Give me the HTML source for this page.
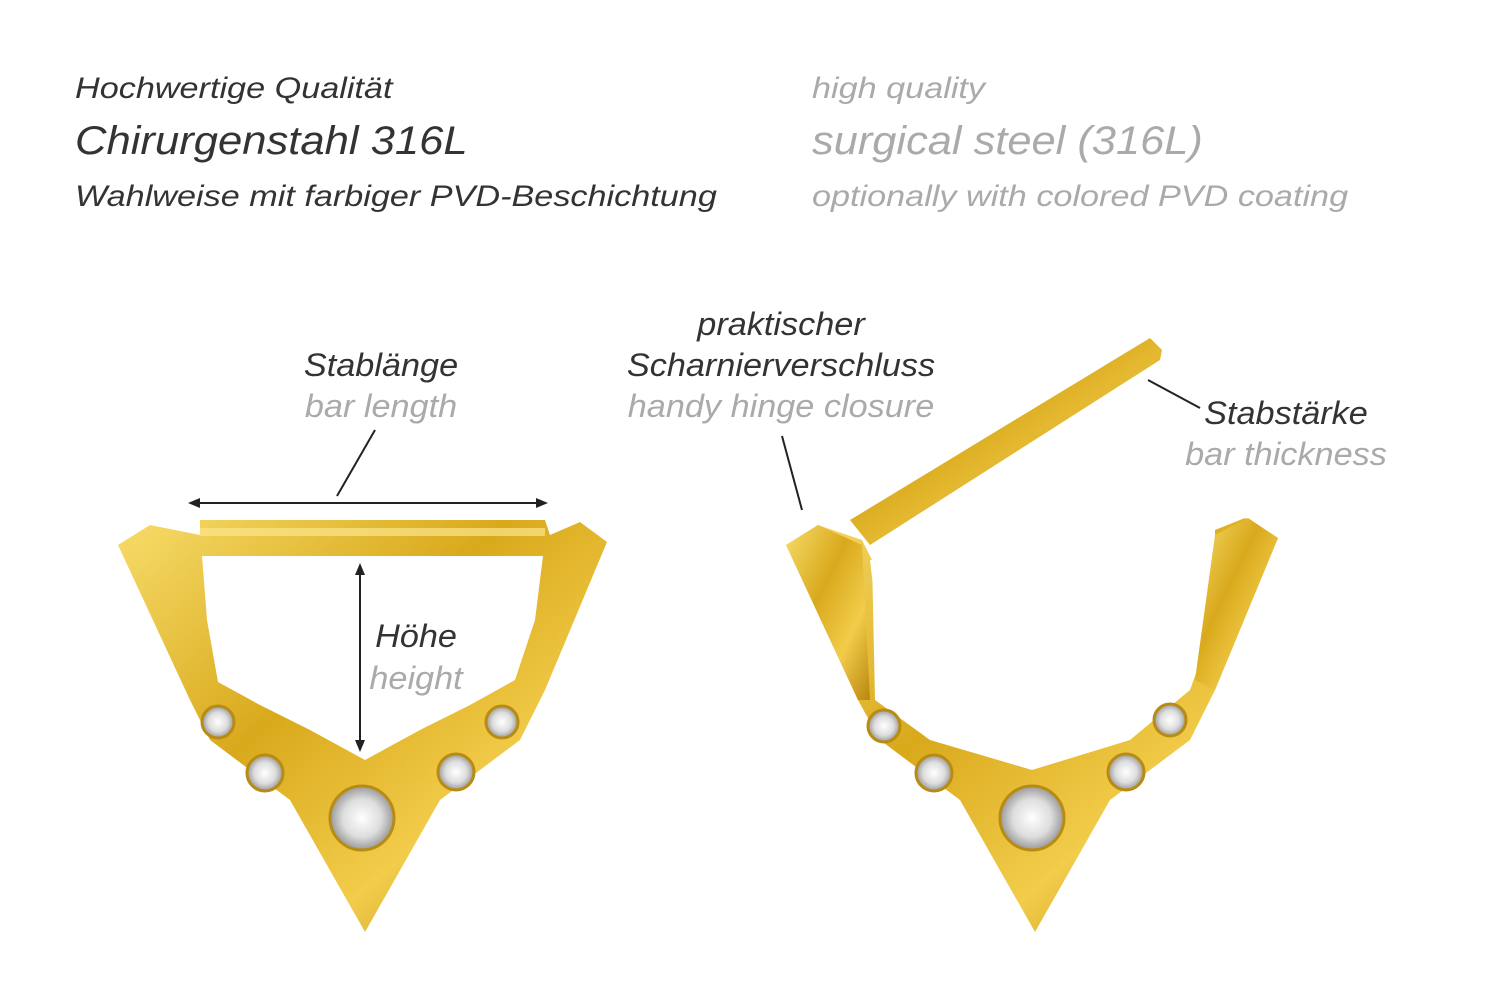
<!DOCTYPE html>
<html><head><meta charset="utf-8"><style>
html,body{margin:0;padding:0;background:#fff;}
body{width:1500px;height:1001px;position:relative;overflow:hidden;font-family:"Liberation Sans",sans-serif;font-style:italic;}
.t{position:absolute;white-space:nowrap;line-height:1;transform-origin:0 0;}
.d{color:#333;}
.g{color:#aaa;}
.c{transform:translateX(-50%) scaleX(1.07);transform-origin:50% 0;}
</style></head><body>
<svg width="1500" height="1001" style="position:absolute;left:0;top:0">
<defs>
<linearGradient id="gd" x1="0" y1="0" x2="1" y2="1">
<stop offset="0" stop-color="#f7dc6a"/><stop offset="0.4" stop-color="#d9a91c"/><stop offset="0.7" stop-color="#f2cc4a"/><stop offset="1" stop-color="#b9860f"/>
</linearGradient>
<radialGradient id="gm"><stop offset="0" stop-color="#fff"/><stop offset="0.6" stop-color="#ddd"/><stop offset="1" stop-color="#999"/></radialGradient>
</defs>
<polygon fill="url(#gd)" points="118,545 150,525 200,535 200,520 545,520 550,535 580,522 607,542 545,690 520,740 440,800 365,932 290,800 210,740 190,700"/>
<polygon fill="#fff" points="202,556 543,556 535,620 515,680 470,705 420,730 365,760 310,730 260,705 218,682 207,620"/>
<rect x="200" y="528" width="345" height="8" fill="#fbe58a" opacity="0.7"/>
<g fill="url(#gm)" stroke="#b88b14" stroke-width="3">
<circle cx="218" cy="722" r="16"/><circle cx="265" cy="773" r="18"/><circle cx="362" cy="818" r="32"/><circle cx="456" cy="772" r="18"/><circle cx="502" cy="722" r="16"/>
</g>
<polygon fill="url(#gd)" points="850,520 1150,338 1162,350 1160,360 870,545"/>
<polygon fill="url(#gd)" points="786,545 818,525 862,540 872,560 875,700 930,740 1032,770 1130,740 1190,690 1215,620 1215,530 1245,518 1278,538 1215,690 1190,740 1110,800 1035,932 960,800 880,740 858,700"/>
<polygon fill="#fff" points="870,560 1212,560 1210,620 1188,682 1140,705 1090,730 1035,760 980,730 930,705 885,682 877,620"/>
<polygon fill="url(#gd)" points="1215,535 1248,518 1278,538 1215,690 1195,680"/>
<polygon fill="url(#gd)" points="786,545 818,525 862,545 870,700 858,700"/>
<g fill="url(#gm)" stroke="#b88b14" stroke-width="3">
<circle cx="884" cy="726" r="16"/><circle cx="934" cy="773" r="18"/><circle cx="1032" cy="818" r="32"/><circle cx="1126" cy="772" r="18"/><circle cx="1170" cy="720" r="16"/>
</g>
<g stroke="#222" stroke-width="2" fill="#222">
<line x1="375" y1="430" x2="337" y2="496"/>
<line x1="196" y1="503" x2="540" y2="503"/>
<polygon points="188,503 200,498 200,508" stroke="none"/>
<polygon points="548,503 536,498 536,508" stroke="none"/>
<line x1="360" y1="571" x2="360" y2="744"/>
<polygon points="360,563 355,575 365,575" stroke="none"/>
<polygon points="360,752 355,740 365,740" stroke="none"/>
<line x1="782" y1="436" x2="802" y2="510"/>
<line x1="1148" y1="380" x2="1200" y2="408"/>
</g>
</svg>
<div class="t d" style="left:75px;top:74px;font-size:30px;transform:scaleX(1.14)">Hochwertige Qualität</div>
<div class="t d" style="left:75px;top:121px;font-size:40px;transform:scaleX(1.09)">Chirurgenstahl 316L</div>
<div class="t d" style="left:75px;top:182px;font-size:30px;transform:scaleX(1.14)">Wahlweise mit farbiger PVD-Beschichtung</div>
<div class="t g" style="left:812px;top:74px;font-size:30px;transform:scaleX(1.14)">high quality</div>
<div class="t g" style="left:812px;top:121px;font-size:40px;transform:scaleX(1.085)">surgical steel (316L)</div>
<div class="t g" style="left:812px;top:182px;font-size:30px;transform:scaleX(1.14)">optionally with colored PVD coating</div>
<div class="t d c" style="left:381px;top:349px;font-size:32px">Stablänge</div>
<div class="t g c" style="left:381px;top:390px;font-size:32px">bar length</div>
<div class="t d c" style="left:781px;top:308px;font-size:32px">praktischer</div>
<div class="t d c" style="left:781px;top:349px;font-size:32px">Scharnierverschluss</div>
<div class="t g c" style="left:781px;top:390px;font-size:32px">handy hinge closure</div>
<div class="t d c" style="left:1286px;top:397px;font-size:32px">Stabstärke</div>
<div class="t g c" style="left:1286px;top:438px;font-size:32px">bar thickness</div>
<div class="t d c" style="left:416px;top:620px;font-size:32px">Höhe</div>
<div class="t g c" style="left:416px;top:662px;font-size:32px">height</div>
</body></html>
